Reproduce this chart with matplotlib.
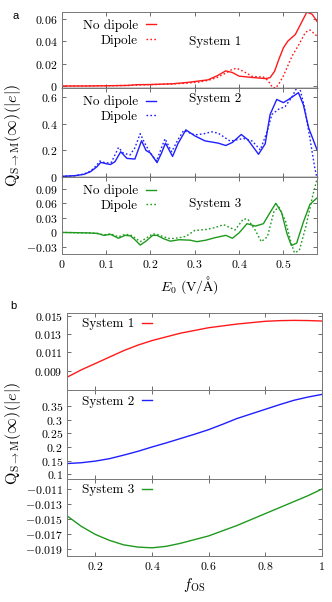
import matplotlib
matplotlib.use("Agg")
import matplotlib.pyplot as plt
from matplotlib.ticker import FuncFormatter

plt.rcParams['font.family'] = 'serif'
plt.rcParams['font.serif'] = ['cmr10']
plt.rcParams['mathtext.fontset'] = 'cm'
plt.rcParams['axes.formatter.use_mathtext'] = True

# ---- panel a: charge transfer against field strength E0 ----
e1_nd = [0, 0.05, 0.1, 0.15, 0.17, 0.2, 0.25, 0.28, 0.31, 0.33, 0.35, 0.37, 0.385, 0.40, 0.43, 0.46,
         0.47, 0.48, 0.49, 0.50, 0.51, 0.527, 0.54, 0.553, 0.565, 0.576]
q1_nd = [0.0, 0.0, 0.0002, 0.0005, 0.0012, 0.0013, 0.002, 0.003, 0.0045, 0.0055, 0.009, 0.0135, 0.012,
         0.0088, 0.0076, 0.0066, 0.0075, 0.013, 0.024, 0.034, 0.04, 0.046, 0.056, 0.066, 0.064, 0.0576]
e1_d = [0, 0.1, 0.15, 0.2, 0.25, 0.28, 0.31, 0.33, 0.35, 0.37, 0.385, 0.395, 0.41, 0.43, 0.455, 0.465,
        0.475, 0.482, 0.49, 0.5, 0.51, 0.52, 0.535, 0.55, 0.56, 0.576]
q1_d = [0.0, 0.0002, 0.0005, 0.0012, 0.0018, 0.0025, 0.0035, 0.005, 0.0075, 0.0115, 0.015, 0.0158, 0.013,
        0.0085, 0.008, 0.005, -0.001, -0.002, 0.002, 0.009, 0.018, 0.027, 0.037, 0.048, 0.05, 0.0445]

e2_nd = [0, 0.03, 0.05, 0.065, 0.079, 0.088, 0.1, 0.11, 0.12, 0.133, 0.147, 0.165, 0.18, 0.19, 0.2, 0.215,
         0.225, 0.234, 0.25, 0.262, 0.28, 0.3, 0.323, 0.353, 0.37, 0.385, 0.405, 0.42, 0.444, 0.459, 0.47,
         0.485, 0.5, 0.51, 0.534, 0.545, 0.557, 0.576]
q2_nd = [0.005, 0.01, 0.02, 0.04, 0.076, 0.11, 0.1, 0.094, 0.115, 0.19, 0.14, 0.135, 0.273, 0.2, 0.18, 0.108,
         0.18, 0.255, 0.155, 0.25, 0.355, 0.31, 0.272, 0.255, 0.237, 0.26, 0.32, 0.28, 0.171, 0.25, 0.47,
         0.584, 0.56, 0.58, 0.635, 0.545, 0.37, 0.204]
e2_d = [0, 0.03, 0.05, 0.065, 0.078, 0.086, 0.1, 0.112, 0.128, 0.139, 0.154, 0.165, 0.177, 0.188, 0.2,
        0.214, 0.225, 0.233, 0.248, 0.262, 0.275, 0.29, 0.3, 0.32, 0.338, 0.353, 0.38, 0.41, 0.43, 0.448,
        0.463, 0.474, 0.489, 0.504, 0.519, 0.53, 0.537, 0.548, 0.56, 0.571, 0.576]
q2_d = [0.005, 0.01, 0.022, 0.045, 0.085, 0.12, 0.105, 0.11, 0.222, 0.18, 0.166, 0.22, 0.326, 0.25, 0.18,
        0.12, 0.22, 0.288, 0.19, 0.28, 0.35, 0.33, 0.317, 0.325, 0.34, 0.33, 0.27, 0.29, 0.27, 0.204,
        0.34, 0.47, 0.51, 0.53, 0.6, 0.67, 0.67, 0.52, 0.29, 0.065, -0.01]

e3_nd = [0, 0.06, 0.08, 0.095, 0.11, 0.128, 0.143, 0.155, 0.165, 0.177, 0.19, 0.205, 0.215, 0.23, 0.245,
         0.265, 0.29, 0.305, 0.325, 0.345, 0.37, 0.385, 0.4, 0.418, 0.437, 0.455, 0.47, 0.483, 0.496,
         0.508, 0.518, 0.53, 0.545, 0.56, 0.576]
q3_nd = [0.0, -0.001, -0.002, -0.006, -0.004, -0.012, -0.006, -0.007, -0.015, -0.026, -0.018, -0.006,
         -0.006, -0.013, -0.018, -0.015, -0.016, -0.019, -0.016, -0.011, -0.006, -0.012, -0.001, 0.018,
         0.013, 0.018, 0.041, 0.06, 0.041, -0.002, -0.027, -0.022, 0.021, 0.058, 0.071]
e3_d = [0, 0.06, 0.08, 0.095, 0.11, 0.128, 0.143, 0.155, 0.165, 0.177, 0.19, 0.205, 0.215, 0.23, 0.245,
        0.265, 0.28, 0.3, 0.325, 0.346, 0.365, 0.391, 0.41, 0.42, 0.437, 0.45, 0.464, 0.479, 0.49, 0.505,
        0.517, 0.525, 0.536, 0.551, 0.566, 0.576]
q3_d = [0.0, -0.001, -0.002, -0.005, -0.003, -0.009, -0.004, -0.005, -0.011, -0.019, -0.012, -0.003,
        -0.004, -0.009, -0.013, -0.011, -0.008, 0.004, 0.006, 0.01, 0.016, 0.005, 0.028, 0.027, 0.004,
        -0.019, -0.009, 0.044, 0.052, 0.023, -0.02, -0.042, -0.037, 0.013, 0.075, 0.11]

# ---- panel b: charge transfer against f_OS ----
fos = [0.1, 0.15, 0.2, 0.25, 0.3, 0.35, 0.4, 0.45, 0.5, 0.55, 0.6, 0.65, 0.7, 0.75, 0.8, 0.85, 0.9,
       0.95, 1.0]
qb1 = [0.0083, 0.0091, 0.0098, 0.0105, 0.0112, 0.0118, 0.0123, 0.0127, 0.0131, 0.0134, 0.0137, 0.0139,
       0.0141, 0.01425, 0.0144, 0.01447, 0.0145, 0.01448, 0.01443]
qb2 = [0.139, 0.142, 0.148, 0.157, 0.170, 0.184, 0.200, 0.215, 0.231, 0.247, 0.264, 0.284, 0.305, 0.322,
       0.339, 0.356, 0.372, 0.384, 0.394]
qb3 = [-0.0146, -0.0160, -0.0171, -0.0179, -0.0185, -0.0188, -0.0189, -0.0187, -0.0183, -0.0178,
       -0.0173, -0.0166, -0.0159, -0.0151, -0.0143, -0.0135, -0.0127, -0.0119, -0.0110]

ticks_a = [[0, 0.02, 0.04, 0.06], [0, 0.2, 0.4, 0.6], [-0.03, 0, 0.03, 0.06, 0.09]]
ticks_b = [[0.009, 0.011, 0.013, 0.015], [0.1, 0.15, 0.2, 0.25, 0.3, 0.35],
           [-0.019, -0.017, -0.015, -0.013, -0.011]]

RED = '#ff1a1a'
BLUE = '#1f1fff'
GREEN = '#1e9a1e'
FS = 9.5
TFS = 8.5
DOT = (0, (1.2, 1.6))

fmt = FuncFormatter(lambda v, p: "$%g$" % v if abs(v) > 1e-12 else "$0$")

fig = plt.figure(figsize=(3.32, 6.02), dpi=100)


def style(ax, yt, xt):
    ax.set_yticks(yt)
    ax.set_xticks(xt)
    ax.yaxis.set_major_formatter(fmt)
    ax.xaxis.set_major_formatter(fmt)
    ax.tick_params(direction='in', length=3, width=0.6, top=True, right=True,
                   labelsize=TFS, pad=3, color='#555555')
    for s in ax.spines.values():
        s.set_color('#777777')
        s.set_linewidth(0.7)


# panel a axes (left, bottom, width, height)
a1 = fig.add_axes([0.186, 0.8538, 0.769, 0.1262])
a2 = fig.add_axes([0.186, 0.706, 0.769, 0.1478])
a3 = fig.add_axes([0.186, 0.578, 0.769, 0.1279])
xt_a = [0, 0.1, 0.2, 0.3, 0.4, 0.5]

panel_a = [
    (a1, e1_nd, q1_nd, e1_d, q1_d, RED, (-0.0018, 0.066), "System 1", 0.605),
    (a2, e2_nd, q2_nd, e2_d, q2_d, BLUE, (0, 0.67), "System 2", 0.876),
    (a3, e3_nd, q3_nd, e3_d, q3_d, GREEN, (-0.0445, 0.114), "System 3", 0.65),
]
for i, (ax, x1, y1, x2, y2, c, yl, name, ty) in enumerate(panel_a):
    ax.plot(x1, y1, color=c, lw=1.0, label="No dipole")
    ax.plot(x2, y2, color=c, lw=1.0, ls=DOT, label="Dipole")
    ax.set_xlim(0, 0.576)
    ax.set_ylim(*yl)
    style(ax, ticks_a[i], xt_a)
    if i < 2:
        ax.tick_params(labelbottom=False)
        ax.spines['bottom'].set_color('black')
        ax.spines['bottom'].set_linewidth(1.0)
    ax.legend(loc='upper right', bbox_to_anchor=(0.375, 0.92 if i != 1 else 0.93), markerfirst=False,
              frameon=False, handlelength=0.8, handletextpad=0.6, borderaxespad=0, borderpad=0.1,
              labelspacing=0.2, fontsize=FS)
    ax.text(0.50, ty, name, transform=ax.transAxes, fontsize=FS, ha='left', va='center')

a3.set_xlabel(r"$E_0\ (\mathrm{V/\AA})$", fontsize=FS + 0.5, labelpad=3)

# panel b axes
b1 = fig.add_axes([0.2018, 0.352, 0.768, 0.128])
b2 = fig.add_axes([0.2018, 0.2043, 0.768, 0.1478])
b3 = fig.add_axes([0.2018, 0.0764, 0.768, 0.1279])
xt_b = [0.2, 0.4, 0.6, 0.8, 1.0]

panel_b = [
    (b1, qb1, RED, (0.0069, 0.0153), "System 1"),
    (b2, qb2, BLUE, (0.082, 0.41), "System 2"),
    (b3, qb3, GREEN, (-0.0200, -0.00965), "System 3"),
]
for i, (ax, y, c, yl, name) in enumerate(panel_b):
    ax.plot(fos, y, color=c, lw=1.0, label=name)
    ax.set_xlim(0.1, 1.0)
    ax.set_ylim(*yl)
    style(ax, ticks_b[i], xt_b)
    if i < 2:
        ax.tick_params(labelbottom=False)
    ax.legend(loc='upper right', bbox_to_anchor=(0.34, 0.95), markerfirst=False, frameon=False,
              handlelength=0.8, handletextpad=0.6, borderaxespad=0, borderpad=0.1, fontsize=FS)

b3.set_xlabel(r"$f_{\mathrm{OS}}$", fontsize=FS + 1, labelpad=3)

ylab = r"$\mathrm{Q}_{\mathrm{S}\rightarrow\mathrm{M}}(\infty)(|e|)$"
fig.text(13 / 332, 1 - 135 / 602, ylab, rotation=90, ha='center', va='center', fontsize=11.5)
fig.text(13 / 332, 1 - 433 / 602, ylab, rotation=90, ha='center', va='center', fontsize=11.5)

fig.text(16 / 332, 1 - 16 / 602, "a", family='Liberation Sans', fontsize=8, ha='center', va='center')
fig.text(13 / 332, 1 - 306 / 602, "b", family='Liberation Sans', fontsize=8, ha='center', va='center')

fig.savefig("out.png", dpi=100)
